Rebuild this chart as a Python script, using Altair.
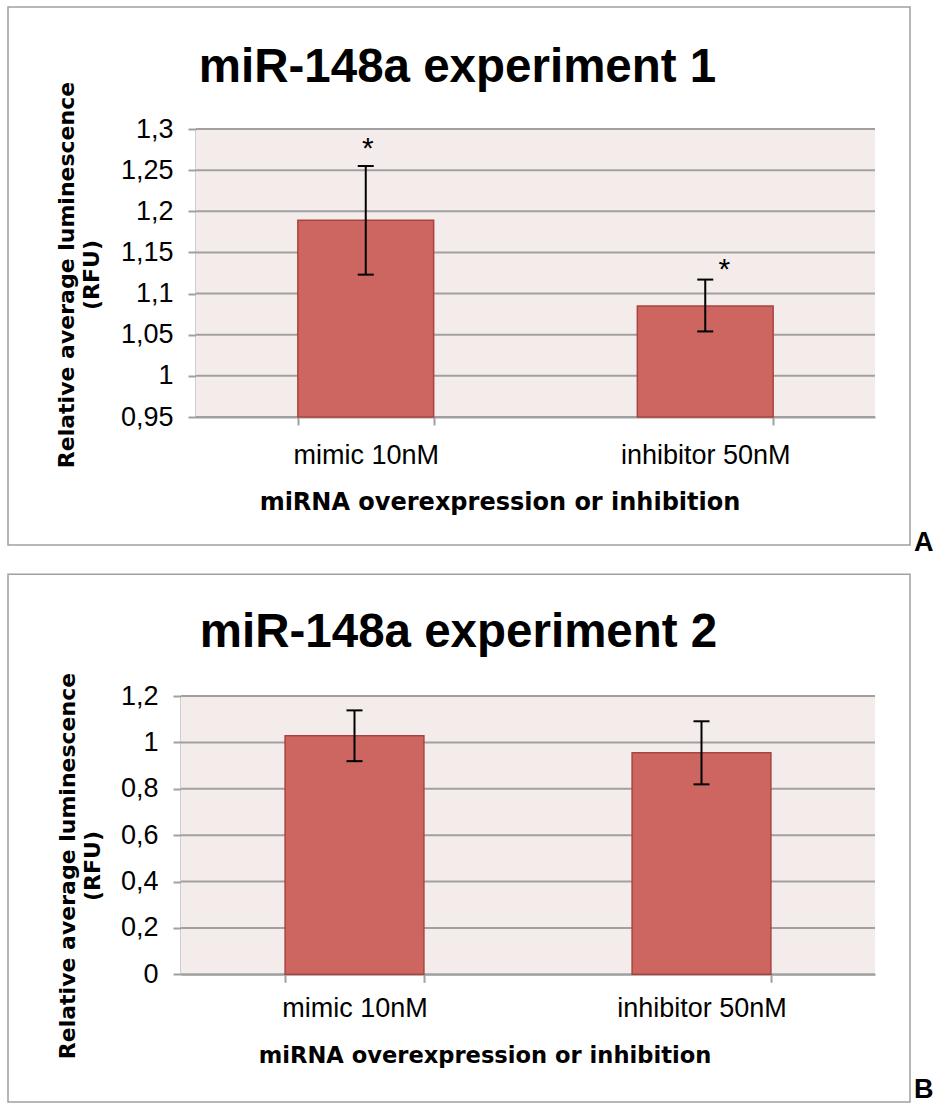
import altair as alt
import pandas as pd

# ---------------- data ----------------
categories = ["mimic 10nM", "inhibitor 50nM"]

exp1_mean = [1.189, 1.085]
exp1_lower = [1.123, 1.054]
exp1_upper = [1.255, 1.117]
exp1_marks = ["*", "*"]
exp1_ticks = [0.95, 1.0, 1.05, 1.1, 1.15, 1.2, 1.25, 1.3]

exp2_mean = [1.029, 0.955]
exp2_lower = [0.919, 0.819]
exp2_upper = [1.138, 1.091]
exp2_marks = ["", ""]
exp2_ticks = [0, 0.2, 0.4, 0.6, 0.8, 1.0, 1.2]

titles = ["miR-148a experiment 1", "miR-148a experiment 2"]
letters = ["A", "B"]
x_title = "miRNA overexpression or inhibition"
y_title = ["Relative average luminescence", "(RFU)"]

BAR_FILL = "#CD6660"
BAR_STROKE = "#A8443F"
GRID = "#A0A0A0"
BOX = "#A0A0A0"
PLOT_BG = "#F4ECEB"


def panel(mean, lower, upper, marks, ticks, title, letter, W, H, g):
    """W = full view width; the visible plot starts g['inset'] px into it."""
    inset = g["inset"]
    df = pd.DataFrame({"cat": categories, "mean": mean, "lower": lower,
                       "upper": upper, "mark": marks})
    tdf = pd.DataFrame({"tick": ticks})
    base = alt.Chart(df)

    xaxis = alt.Axis(title=None, labelAngle=0, tickBand="extent",
                     labelPadding=g["xlabpad"], grid=False)
    yaxis = alt.Axis(title=None, values=ticks, grid=False, labelPadding=15,
                     offset=-inset,
                     labelExpr="replace(format(datum.value, '.2~f'), '.', ',')")
    xscale = alt.Scale(paddingInner=0.6, paddingOuter=0.3, range=[inset, W])
    yscale = alt.Scale(domain=[ticks[0], ticks[-1]], nice=False, zero=False)

    def X():
        return alt.X("cat:N", sort=categories, scale=xscale, axis=xaxis)

    def Y(f):
        return alt.Y(f + ":Q", scale=yscale, axis=yaxis)

    one = alt.Chart(pd.DataFrame({"k": [0]}))
    bg = one.mark_rect(fill=PLOT_BG, strokeWidth=0).encode(
        x=alt.value(inset), x2=alt.value(W), y=alt.value(0), y2=alt.value(H))
    grid = alt.Chart(tdf).mark_rule(color=GRID, strokeWidth=2).encode(
        y=Y("tick"), x=alt.value(inset), x2=alt.value(W))

    bars = base.mark_bar(fill=BAR_FILL, stroke=BAR_STROKE, strokeWidth=1.5).encode(
        x=X(), y=Y("mean"), y2=alt.datum(ticks[0]))
    rule = base.mark_rule(color="black", strokeWidth=2).encode(
        x=X(), y=Y("lower"), y2="upper:Q")
    cap_lo = base.mark_tick(color="black", thickness=2, size=16, opacity=1).encode(
        x=X(), y=Y("lower"))
    cap_hi = base.mark_tick(color="black", thickness=2, size=16, opacity=1).encode(
        x=X(), y=Y("upper"))
    layers = [bg, grid, bars, rule, cap_lo, cap_hi]

    star_fmt = [(2, -8), (19, -0.5)]
    for cat, mk, (dx, dy) in zip(categories, marks, star_fmt):
        if mk:
            layers.append(
                base.transform_filter(alt.datum.cat == cat)
                .mark_text(font="Liberation Sans", fontSize=30, color="black",
                           baseline="alphabetic", align="center", dx=dx, dy=dy)
                .encode(x=X(), y=Y("upper"), text="mark:N"))

    box = one.mark_rect(fill="white", fillOpacity=0, stroke=BOX, strokeWidth=1.5).encode(
        x=alt.value(g["bx"]), x2=alt.value(g["bx2"]),
        y=alt.value(g["by"]), y2=alt.value(g["by2"]))
    ttl = one.mark_text(text=title, font="Liberation Sans", fontWeight="bold",
                        fontSize=47.5, color="black", align="center",
                        baseline="alphabetic").encode(
        x=alt.value(g["tx"]), y=alt.value(g["ty"]))
    xt = one.mark_text(text=x_title, font="DejaVu Sans", fontWeight="bold",
                       fontSize=g["xtfs"], color="black", align="center",
                       baseline="alphabetic").encode(
        x=alt.value(g["xtx"]), y=alt.value(g["xty"]))
    yt = one.mark_text(text=y_title, font="DejaVu Sans", fontWeight="bold",
                       fontSize=22, color="black", align="center", angle=270,
                       baseline="alphabetic", lineHeight=25).encode(
        x=alt.value(g["ytx"]), y=alt.value(g["yty"]))
    let = one.mark_text(text=letter, font="Liberation Sans", fontWeight="bold",
                        fontSize=27, color="black", align="left",
                        baseline="alphabetic").encode(
        x=alt.value(g["lx"]), y=alt.value(g["ly"]))

    return alt.layer(box, *layers, ttl, xt, yt, let).properties(
        width=W, height=H, view=alt.ViewBackground(fill="transparent", strokeWidth=0))


# geometry relative to each view's origin (both views start at page x = 181)
geoA = dict(inset=15, xlabpad=17, xtx=319, xty=380.7, xtfs=24, ytx=-107.5, yty=146,
            bx=-173, bx2=729, by=-122, by2=416,
            tx=276.5, ty=-47, lx=733, ly=422)
geoB = dict(inset=0, xlabpad=13, xtx=304, xty=367.3, xtfs=22.6, ytx=-106, yty=170,
            bx=-173, bx2=729, by=-121.7, by2=406,
            tx=277.5, ty=-48.7, lx=733, ly=402)

pA = panel(exp1_mean, exp1_lower, exp1_upper, exp1_marks, exp1_ticks,
           titles[0], letters[0], 694, 288, geoA)
pB = panel(exp2_mean, exp2_lower, exp2_upper, exp2_marks, exp2_ticks,
           titles[1], letters[1], 694, 278.3, geoB)

chart = alt.VConcatChart(
    vconcat=[pA, pB],
    spacing=17,
    padding={"left": 7, "top": 6, "right": 0, "bottom": 0},
    background="white",
).configure_view(
    stroke="transparent"
).configure_axis(
    labelFont="Liberation Sans", labelFontSize=27, labelColor="black",
    domainColor=GRID, domainWidth=2, tickColor=GRID, tickWidth=2, tickSize=8,
)

chart.save("out.html", embed_options={"renderer": "svg", "actions": False})
